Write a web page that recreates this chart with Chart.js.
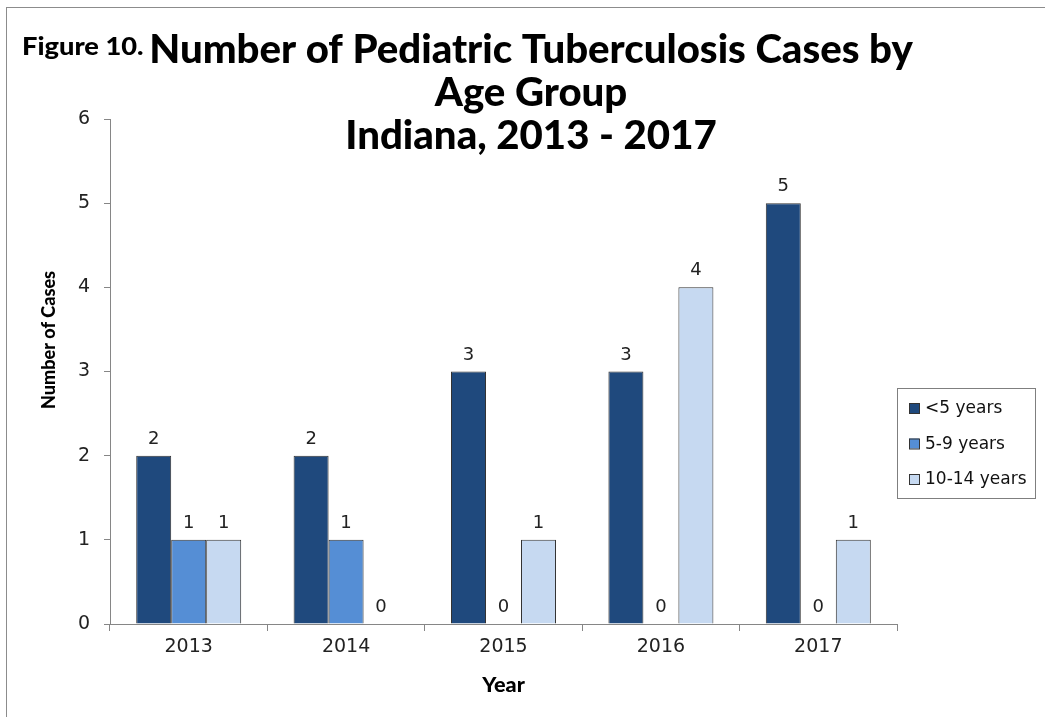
<!DOCTYPE html>
<html>
<head>
<meta charset="utf-8">
<script src="https://cdn.jsdelivr.net/npm/chart.js@4"></script>
<style>
    html, body { margin: 0; padding: 0; background: #fff; }
    #wrap { position: relative; width: 1045px; height: 717px; }
    #frame { position: absolute; left: 6px; top: 7px; right: 0; bottom: 0;
             border-top: 1px solid #8c8c8c; border-left: 1px solid #8c8c8c; }
    canvas { position: absolute; left: 0; top: 0; }
</style>
</head>
<body>
<div id="wrap">
    <div id="frame"></div>
    <canvas id="chart" width="1045" height="717"></canvas>
</div>
<script>
// Chart data
const years = ['2013', '2014', '2015', '2016', '2017'];
const under5 = [2, 2, 3, 3, 5];
const age5to9 = [1, 1, 0, 0, 0];
const age10to14 = [1, 0, 1, 4, 1];
const seriesLabels = ['<5 years', '5-9 years', '10-14 years'];
const seriesColors = ['#1f497d', '#558ed5', '#c6d9f1'];
const yTicks = [0, 1, 2, 3, 4, 5, 6];

const titleLines = ['Number of Pediatric Tuberculosis Cases by', 'Age Group', 'Indiana, 2013 - 2017'];
const figureLabel = 'Figure 10.';

const titleFont = 'Lato, "Open Sans", sans-serif';
const tickFont = '"DejaVu Sans", Verdana, sans-serif';

// Helper: draw text with optional horizontal squeeze
function drawText(ctx, text, x, y, font, squeeze, align) {
    ctx.save();
    ctx.font = font;
    ctx.textAlign = align || 'center';
    ctx.translate(x, y);
    ctx.scale(squeeze, 1);
    ctx.fillText(text, 0, 0);
    ctx.restore();
}

// Plugin for titles, axis titles, data labels and legend
const decorations = {
    id: 'decorations',
    afterDraw(chart) {
        const ctx = chart.ctx;
        const area = chart.chartArea;
        ctx.save();
        ctx.fillStyle = '#000';
        ctx.textBaseline = 'alphabetic';

        // Main title
        const centerX = 531;
        const baselines = [63, 106, 149];
        titleLines.forEach((line, i) => {
            drawText(ctx, line, centerX, baselines[i], '900 39px ' + titleFont, 1.03);
        });
        drawText(ctx, figureLabel, 22, 55, '900 25px ' + titleFont, 1.09, 'left');

        // Axis titles
        ctx.save();
        ctx.translate(55, 340);
        ctx.rotate(-Math.PI / 2);
        drawText(ctx, 'Number of Cases', 0, 0, '900 19px ' + titleFont, 0.95);
        ctx.restore();
        drawText(ctx, 'Year', (area.left + area.right) / 2, 692, '900 21px ' + titleFont, 1.03);

        // Data labels
        ctx.font = '18px ' + tickFont;
        ctx.textAlign = 'center';
        ctx.fillStyle = '#222';
        chart.data.datasets.forEach((ds, di) => {
            const meta = chart.getDatasetMeta(di);
            meta.data.forEach((bar, i) => {
                ctx.fillText(String(ds.data[i]), bar.x, bar.y - 12);
            });
        });

        // Legend
        const lx = 897, ly = 388, lw = 138, lh = 110;
        ctx.strokeStyle = '#7f7f7f';
        ctx.lineWidth = 1;
        ctx.strokeRect(lx + 0.5, ly + 0.5, lw, lh);
        ctx.textAlign = 'left';
        ctx.textBaseline = 'middle';
        ctx.font = '17px ' + tickFont;
        chart.data.datasets.forEach((ds, di) => {
            const ry = ly + 20 + di * 35.5;
            ctx.fillStyle = ds.backgroundColor;
            ctx.fillRect(lx + 12, ry - 5, 10, 10);
            ctx.strokeStyle = '#333';
            ctx.strokeRect(lx + 12.5, ry - 4.5, 10, 10);
            ctx.fillStyle = '#111';
            ctx.fillText(ds.label, lx + 28, ry + 1);
        });
        ctx.restore();
    }
};

const datasets = [under5, age5to9, age10to14].map((values, i) => ({
    label: seriesLabels[i],
    data: values,
    backgroundColor: seriesColors[i],
    borderColor: '#333',
    borderWidth: 1,
    borderSkipped: 'bottom',
    categoryPercentage: 0.667,
    barPercentage: 1.0
}));

new Chart(document.getElementById('chart'), {
    type: 'bar',
    data: { labels: years, datasets: datasets },
    options: {
        responsive: false,
        animation: false,
        events: [],
        layout: { padding: { left: 0, top: 119, right: 148, bottom: 0 } },
        plugins: {
            legend: { display: false },
            title: { display: false },
            tooltip: { enabled: false }
        },
        scales: {
            x: {
                grid: { drawOnChartArea: false, tickLength: 7, color: '#868686', offset: true },
                border: { color: '#868686' },
                ticks: { color: '#222', font: { family: tickFont, size: 19 }, padding: 5 },
                afterFit(scale) { scale.height = 93; }
            },
            y: {
                min: 0,
                max: 6,
                afterBuildTicks(scale) { scale.ticks = yTicks.map(v => ({ value: v })); },
                grid: { drawOnChartArea: false, tickLength: 6, color: '#868686' },
                border: { color: '#868686' },
                ticks: { color: '#222', font: { family: tickFont, size: 19 }, padding: 14 },
                afterFit(scale) { scale.width = 110; }
            }
        }
    },
    plugins: [decorations]
});
</script>
</body>
</html>
